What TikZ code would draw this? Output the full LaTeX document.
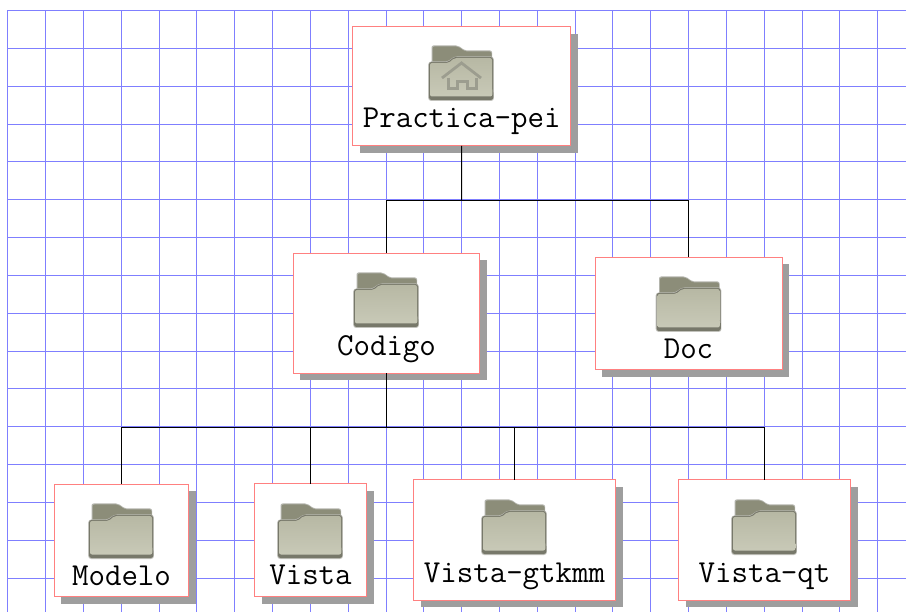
\documentclass[tikz,border=0pt]{standalone}
\usepackage{fontspec}
\setmonofont{Latin Modern Mono}
\usetikzlibrary{shadows}
\definecolor{gridc}{HTML}{7F7FFF}
\definecolor{edgec}{HTML}{FF8080}
\definecolor{shadc}{HTML}{9E9E9E}
\definecolor{backc}{HTML}{8C8D79}
\definecolor{fronta}{HTML}{B7B8A4}
\definecolor{frontb}{HTML}{C8C9B7}
\definecolor{rimc}{HTML}{77786A}
\definecolor{homec}{HTML}{9C9D8F}
\tikzset{
  tile/.style n args={3}{draw=edgec,line width=1pt,fill=white,inner sep=0pt,outer sep=0pt,
    text width=#1,align=center,text height=#2,text depth=#3,
    font=\fontsize{32}{32}\selectfont\ttfamily,
    drop shadow={shadow xshift=7pt,shadow yshift=-7pt,fill=shadc,opacity=1}},
  gridline/.style={draw=gridc,line width=1pt},
  link/.style={draw=black,line width=1pt},
  folder/.pic={
    \fill[rimc!55!white,rounded corners=2pt] (2.5,0.5) -- (29,0.5) -- (36,5.5) -- (63,5.5) -- (63.5,20) -- (2.5,20) -- cycle;
    \fill[backc,rounded corners=2pt] (3.5,1.5) -- (29,1.5) -- (36,6.5) -- (62.5,6.5) -- (62.5,20) -- (3.5,20) -- cycle;
    \fill[rimc!45!white,rounded corners=3pt] (-0.8,16.5) -- (19,16.5) -- (25,11.5) -- (64.8,11.5) -- (65,56) -- (-0.8,56) -- cycle;
    \fill[rimc,rounded corners=2.5pt] (0,17) -- (19,17) -- (25,12) -- (64,12) -- (64.3,55) -- (0,55) -- cycle;
    \path[top color=fronta,bottom color=frontb,rounded corners=2pt] (1,18) -- (19.5,18) -- (25.5,13) -- (63,13) -- (63.3,51.5) -- (1,51.5) -- cycle;
  },
  homemark/.pic={
    \draw[homec,line width=2.8pt,line join=miter] (13,33) -- (32.5,18) -- (52,33);
    \draw[homec,line width=3pt,line join=miter] (19,33) -- (19,44) -- (28,44) -- (28,37) -- (38,37) -- (38,44) -- (47,44) -- (47,33);
  }
}
\begin{document}
\begin{tikzpicture}[x=1pt,y=-1pt]
\useasboundingbox[fill=white] (0,0) rectangle (906,612);
\foreach \k in {0,...,23} {
  \pgfmathsetmacro{\gx}{floor(7.8+37.82*\k)+0.5}
  \draw[gridline] (\gx,10.5) -- (\gx,612);
}
\foreach \k in {0,...,15} {
  \pgfmathsetmacro{\gy}{floor(10.7+37.82*\k)+0.5}
  \draw[gridline] (7.5,\gy) -- (906,\gy);
}
% junction points of the connectors
\coordinate (busa) at (461.5,200.5);
\coordinate (busb) at (386.5,427.5);
% boxes
\node[tile={218pt}{101pt}{18pt}] (prac) at (461.7,86.4) {Practica-pei};
\node[tile={186.6pt}{102pt}{18pt}] (codigo) at (386.5,313.3) {Codigo};
\node[tile={187pt}{101pt}{11.5pt}] (doc) at (688.5,313.3) {Doc};
\node[tile={134.4pt}{101pt}{11.7pt}] (modelo) at (121.5,540.4) {Modelo};
\node[tile={112pt}{101pt}{12pt}] (vista) at (310.5,540.4) {Vista};
\node[tile={202pt}{103pt}{17pt}] (gtk) at (514.5,540) {Vista-gtkmm};
\node[tile={172pt}{103pt}{17pt}] (qt) at (764.5,540) {Vista-qt};
% connectors
\draw[link] (prac.south) -- (busa);
\draw[link] (busa) -| (codigo.north);
\draw[link] (busa) -| (doc.north);
\draw[link] (codigo.south) -- (busb);
\draw[link] (busb) -| (modelo.north);
\draw[link] (busb) -| (vista.north);
\draw[link] (busb) -| (gtk.north);
\draw[link] (busb) -| (qt.north);
% icons
\pic at (429,45) {folder};
\pic at (429,45) {homemark};
\pic at (354,272) {folder};
\pic at (656.5,276) {folder};
\pic at (89,503) {folder};
\pic at (278,503) {folder};
\pic at (482,499) {folder};
\pic at (732,499) {folder};
\end{tikzpicture}
\end{document}
